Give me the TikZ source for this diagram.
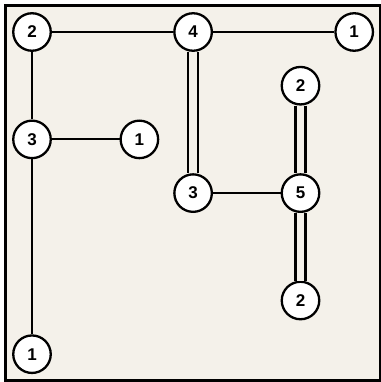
\documentclass[tikz,border=0pt]{standalone}
\usepackage{fontspec}
\setmainfont{Liberation Sans}
\definecolor{paper}{RGB}{244,241,234}
\begin{document}
\begin{tikzpicture}[x=1pt,y=1pt,
  island/.style={circle, draw, line width=2.3pt, fill=white, minimum size=37.5pt,
    inner sep=0pt, font=\bfseries\fontsize{17}{17}\selectfont},
  bridge/.style={line width=2pt},
  dbridge/.style={line width=2.5pt, double=paper, double distance=7.5pt}]

\newcommand\X{53.7pt}
\newcommand\Y{-53.7pt}

\useasboundingbox (-32,32) rectangle (348,-350);
\fill[white] (-32,32) rectangle (348,-350);
\draw[line width=3.5pt, fill=paper] (-26.5,26.5) rectangle (349.2,-348.5);
%%

\node[island] (a) at (0*\X, 0*\Y) {2};
\node[island] (b) at (3*\X, 0*\Y) {4};
\node[island] (c) at (6*\X, 0*\Y) {1};
\node[island] (d) at (5*\X, 1*\Y) {2};
\node[island] (e) at (0*\X, 2*\Y) {3};
\node[island] (f) at (2*\X, 2*\Y) {1};
\node[island] (g) at (3*\X, 3*\Y) {3};
\node[island] (h) at (5*\X, 3*\Y) {5};
\node[island] (i) at (5*\X, 5*\Y) {2};
\node[island] (j) at (0*\X, 6*\Y) {1};
%%

\draw[bridge] (a) -- (b);
\draw[bridge] (b) -- (c);
\draw[bridge] (a) -- (e);
\draw[bridge] (e) -- (f);
\draw[bridge] (e) -- (j);
\draw[bridge] (g) -- (h);

\draw[dbridge] (b) -- (g);
\draw[dbridge] (d) -- (h);
\draw[dbridge] (h) -- (i);

\end{tikzpicture}
\end{document}
